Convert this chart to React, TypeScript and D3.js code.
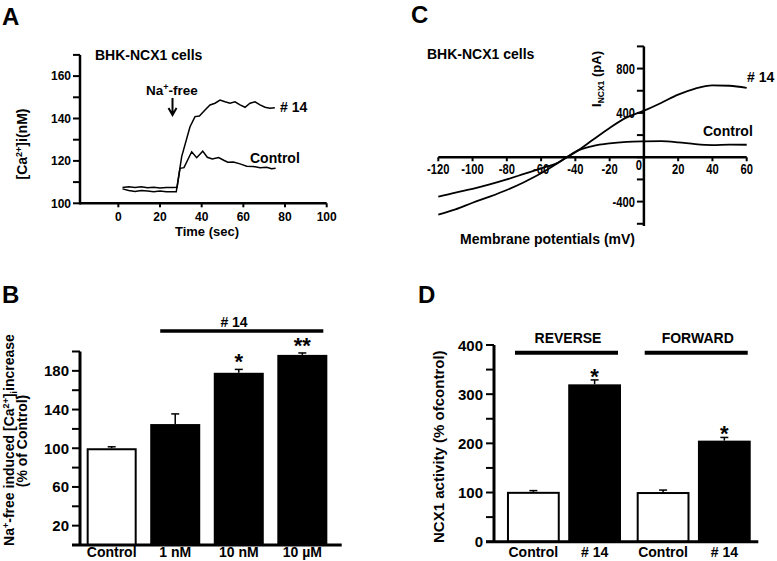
import React from 'react';
import * as d3 from 'd3';

const FONT = "'Liberation Sans', Arial, Helvetica, sans-serif";

// ---------- Panel A : [Ca2+]i time course ----------
const timeTicks = [0, 20, 40, 60, 80, 100];
const caTicks = [100, 110, 120, 130, 140, 150, 160, 170];
const caTickLabels = [100, 120, 140, 160];
const time14 = [2, 5, 8, 11, 14, 17, 20, 23, 26, 27.8, 30.4, 34.4, 36.8, 38.9, 41.6, 44.0, 46.4, 48.8, 51.2, 53.6, 56.0, 58.4, 60.8, 63.2, 65.6, 68.0, 70.4, 72.7, 75.1];
const ca14 = [106.8, 106.0, 105.6, 106.0, 105.8, 105.5, 105.8, 105.5, 105.4, 105.4, 122.0, 136.1, 140.9, 141.2, 144.0, 146.4, 147.2, 148.7, 147.9, 147.2, 147.9, 146.4, 145.3, 147.2, 147.9, 146.4, 145.3, 144.8, 145.1];
const timeCtrl = [2, 5, 8, 11, 14, 17, 20, 23, 26, 28.2, 29.6, 31.5, 35.2, 37.6, 40.5, 42.7, 45.1, 48.1, 50.6, 52.5, 55.2, 58.4, 61.6, 64.7, 68, 71.2, 73.5, 75.5];
const caCtrl = [107.4, 107.8, 107.5, 107.8, 107.3, 107.6, 107.2, 107.5, 107.4, 107.6, 116.5, 116.8, 124.3, 121.5, 124.6, 121.7, 120.9, 121.6, 120.3, 119.4, 119.5, 118.6, 117.5, 117.4, 116.8, 117.0, 116.3, 116.5];
const naFreeTime = 26;

// ---------- Panel C : I-V curves ----------
const mvTicks = [-120, -100, -80, -60, -40, -20, 0, 20, 40, 60];
const paTicks = [-600, -400, -200, 0, 200, 400, 600, 800, 1000];
const paTickLabels = [-400, 400, 800];
const ivVoltage = [-120, -110, -100, -90, -80, -70, -60, -50, -45, -40, -30, -20, -10, 0, 10, 20, 30, 40, 50, 60];
const iv14 = [-517, -470, -410, -355, -295, -225, -145, -50, 0, 45, 155, 265, 360, 420, 490, 565, 620, 648, 645, 625];
const ivCtrl = [-355, -318, -285, -245, -200, -150, -100, -48, 0, 50, 100, 125, 138, 143, 145, 135, 118, 110, 114, 113];

// ---------- Panel B : bars ----------
const bCategories = ['Control', '1 nM', '10 nM', '10 µM'];
const bValues = [100, 125, 178, 196.5];
const bErrors = [1.5, 10.5, 3.5, 2];
const bFilled = [false, true, true, true];
const bStars = ['', '', '*', '**'];
const bTicks = [20, 40, 60, 80, 100, 120, 140, 160, 180, 200];
const bTickLabels = [20, 60, 100, 140, 180];

// ---------- Panel D : bars ----------
const dGroups = ['REVERSE', 'FORWARD'];
const dConditions = ['Control', '# 14'];
const dReverse = [101.4, 320];
const dReverseErr = [2.5, 9];
const dForward = [101, 205.5];
const dForwardErr = [4, 6.5];
const dFilled = [false, true];
const dStars = ['', '*'];
const dTicks = [0, 50, 100, 150, 200, 250, 300, 350, 400];
const dTickLabels = [0, 100, 200, 300, 400];

export default function App() {
  // Panel A scales
  const xA = d3.scaleLinear().domain([-18.4, 100]).range([80, 326.7]);
  const yA = d3.scaleLinear().domain([100, 170]).range([203.3, 54.9]);
  const pathA = (ts: number[], vs: number[]) =>
    d3.line<number>().x((_, i) => xA(ts[i])).y((v) => yA(v))(vs) || '';

  // Panel C scales
  const xC = d3.scaleLinear().domain([-120, 60]).range([438.3, 746.7]);
  const yC = d3.scaleLinear().domain([-620, 1000]).range([226, 46.4]);
  const pathC = (vs: number[]) =>
    d3.line<number>().x((_, i) => xC(ivVoltage[i])).y((v) => yC(v)).curve(d3.curveMonotoneX)(vs) || '';

  // Panel B scales
  const xB = d3.scaleBand<string>().domain(bCategories).range([80, 334]).paddingInner(0.213).paddingOuter(0.105);
  const yB = d3.scaleLinear().domain([0, 200]).range([545, 351.5]);
  const bw = xB.bandwidth();

  // Panel D scales
  const xG = d3.scaleBand<string>().domain(dGroups).range([494, 763.7]).paddingInner(0.121).paddingOuter(0.1);
  const xCond = d3.scaleBand<string>().domain(dConditions).range([0, xG.bandwidth()]).paddingInner(0.138).paddingOuter(0);
  const yD = d3.scaleLinear().domain([0, 400]).range([541.7, 345]);
  const dw = xCond.bandwidth();
  const dSeries = [
    { g: dGroups[0], vals: dReverse, errs: dReverseErr },
    { g: dGroups[1], vals: dForward, errs: dForwardErr },
  ];

  const condensed = (x: number, y: number, s: string, anchor: string, key: string | number) => (
    <text key={key} transform={`translate(${x},${y}) scale(0.8,1)`} textAnchor={anchor as any} fontSize={14} fontWeight="bold">{s}</text>
  );

  return (
    <svg width={777} height={561} style={{ position: 'absolute', left: 0, top: 0 }} fontFamily={FONT}>
      <rect width={777} height={561} fill="#fff" />

      {/* ===== Panel A ===== */}
      <text x={2} y={25} fontSize={24} fontWeight="bold">A</text>
      <text x={95} y={60} fontSize={14} fontWeight="bold">BHK-NCX1 cells</text>
      <line x1={80} x2={80} y1={yA(100) + 1.2} y2={yA(170)} stroke="#000" strokeWidth={2.5} />
      <line x1={80} x2={xA(100)} y1={yA(100)} y2={yA(100)} stroke="#000" strokeWidth={2.5} />
      {caTicks.map((t) => (
        <line key={t} x1={73} x2={80} y1={yA(t)} y2={yA(t)} stroke="#000" strokeWidth={2} />
      ))}
      {caTickLabels.map((t) => (
        <text key={t} x={71} y={yA(t) + 4.3} textAnchor="end" fontSize={12} fontWeight="bold">{t}</text>
      ))}
      {timeTicks.map((t) => (
        <g key={t}>
          <line x1={xA(t)} x2={xA(t)} y1={yA(100)} y2={yA(100) + 4} stroke="#000" strokeWidth={2} />
          <text x={xA(t)} y={221} textAnchor="middle" fontSize={12} fontWeight="bold">{t}</text>
        </g>
      ))}
      <text x={207} y={236} textAnchor="middle" fontSize={13} fontWeight="bold">Time (sec)</text>
      <text transform="translate(27,144) rotate(-90)" textAnchor="middle" fontSize={14} fontWeight="bold">
        [Ca<tspan dy={-5} fontSize={9}>2+</tspan><tspan dy={5}>]i(nM)</tspan>
      </text>
      <path d={pathA(timeCtrl, caCtrl)} fill="none" stroke="#000" strokeWidth={1.5} />
      <path d={pathA(time14, ca14)} fill="none" stroke="#000" strokeWidth={1.5} />
      <text x={146} y={95} fontSize={13.5} fontWeight="bold">
        Na<tspan dy={-5} fontSize={9}>+</tspan><tspan dy={5}>-free</tspan>
      </text>
      <path d={`M${xA(naFreeTime)},98 L${xA(naFreeTime)},115 M${xA(naFreeTime) - 4},108 L${xA(naFreeTime)},115 L${xA(naFreeTime) + 4},108`} fill="none" stroke="#000" strokeWidth={2} />
      <text x={280} y={111.5} fontSize={14} fontWeight="bold"># 14</text>
      <text x={250} y={163} fontSize={14} fontWeight="bold">Control</text>

      {/* ===== Panel C ===== */}
      <text x={411} y={23} fontSize={24} fontWeight="bold">C</text>
      <text x={427} y={59} fontSize={14} fontWeight="bold">BHK-NCX1 cells</text>
      <line x1={xC(-120)} x2={xC(60)} y1={yC(0)} y2={yC(0)} stroke="#000" strokeWidth={2.5} />
      <line x1={xC(0)} x2={xC(0)} y1={yC(1000)} y2={yC(-620)} stroke="#000" strokeWidth={2.5} />
      {mvTicks.map((t) => (
        <line key={t} x1={xC(t)} x2={xC(t)} y1={yC(0)} y2={yC(0) + 4} stroke="#000" strokeWidth={2} />
      ))}
      {mvTicks.map((t) =>
        t === 0
          ? condensed(xC(0) - 5, yC(0) + 13, '0', 'middle', 'z')
          : condensed(xC(t), yC(0) + 17, String(t), 'middle', t)
      )}
      {paTicks.map((t) => (
        <line key={t} x1={xC(0) - 7} x2={xC(0)} y1={yC(t)} y2={yC(t)} stroke="#000" strokeWidth={2} />
      ))}
      {paTickLabels.map((t) => condensed(xC(0) - 9, yC(t) + 5, String(t), 'end', 'p' + t))}
      <text transform="translate(601,79) rotate(-90)" textAnchor="middle" fontSize={13} fontWeight="bold">
        I<tspan dy={3} fontSize={8.5}>NCX1</tspan><tspan dy={-3}> (pA)</tspan>
      </text>
      <text x={547.5} y={244} textAnchor="middle" fontSize={14} fontWeight="bold">Membrane potentials (mV)</text>
      <path d={pathC(ivCtrl)} fill="none" stroke="#000" strokeWidth={1.8} />
      <path d={pathC(iv14)} fill="none" stroke="#000" strokeWidth={1.8} />
      <text x={747} y={82} fontSize={14} fontWeight="bold"># 14</text>
      <text x={703} y={136} fontSize={14} fontWeight="bold">Control</text>

      {/* ===== Panel B ===== */}
      <text x={2} y={303} fontSize={24} fontWeight="bold">B</text>
      {bCategories.map((c, i) => {
        const x = xB(c)!;
        const v = bValues[i];
        const cx = x + bw / 2;
        return (
          <g key={c}>
            <line x1={cx} x2={cx} y1={yB(v)} y2={yB(v + bErrors[i])} stroke="#000" strokeWidth={1.5} />
            <line x1={cx - 4} x2={cx + 4} y1={yB(v + bErrors[i])} y2={yB(v + bErrors[i])} stroke="#000" strokeWidth={1.5} />
            {bFilled[i] ? (
              <rect x={x} y={yB(v)} width={bw} height={yB(0) - yB(v)} fill="#000" />
            ) : (
              <rect x={x + 1} y={yB(v) + 1} width={bw - 2} height={yB(0) - yB(v) - 1} fill="#fff" stroke="#000" strokeWidth={2} />
            )}
            {bStars[i] && (
              <text x={cx} y={yB(v + bErrors[i])} textAnchor="middle" fontSize={22} fontWeight="bold">{bStars[i]}</text>
            )}
            <text x={cx} y={557} textAnchor="middle" fontSize={14} fontWeight="bold">{c}</text>
          </g>
        );
      })}
      <line x1={80} x2={80} y1={yB(0)} y2={yB(200)} stroke="#000" strokeWidth={3} />
      <line x1={72} x2={341.7} y1={yB(0)} y2={yB(0)} stroke="#000" strokeWidth={3} />
      {bTicks.map((t) => (
        <line key={t} x1={72} x2={80} y1={yB(t)} y2={yB(t)} stroke="#000" strokeWidth={2} />
      ))}
      {bTickLabels.map((t) => (
        <text key={t} x={69} y={yB(t) + 5.5} textAnchor="end" fontSize={15} fontWeight="bold">{t}</text>
      ))}
      <line x1={xB('1 nM')! + 10} x2={xB('10 µM')! + bw - 4} y1={331} y2={331} stroke="#000" strokeWidth={3.5} />
      <text x={234} y={327} textAnchor="middle" fontSize={14} fontWeight="bold"># 14</text>
      <text transform="translate(14,440) rotate(-90)" textAnchor="middle" fontSize={14} fontWeight="bold">
        Na<tspan dy={-5} fontSize={9}>+</tspan><tspan dy={5}>-free induced [Ca</tspan><tspan dy={-5} fontSize={9}>2+</tspan><tspan dy={5}>]</tspan><tspan dy={3} fontSize={9}>i</tspan><tspan dy={-3}>increase</tspan>
      </text>
      <text transform="translate(26.5,441) rotate(-90)" textAnchor="middle" fontSize={14} fontWeight="bold">(% of Control)</text>

      {/* ===== Panel D ===== */}
      <text x={418} y={303} fontSize={24} fontWeight="bold">D</text>
      {dSeries.map((s) => {
        const g0 = xG(s.g)!;
        return (
          <g key={s.g}>
            <line x1={g0 + 8} x2={g0 + xG.bandwidth() - 3} y1={352.8} y2={352.8} stroke="#000" strokeWidth={4} />
            <text x={g0 + xG.bandwidth() / 2 + 4} y={343} textAnchor="middle" fontSize={14} fontWeight="bold">{s.g}</text>
            {dConditions.map((c, i) => {
              const x = g0 + xCond(c)!;
              const v = s.vals[i];
              const cx = x + dw / 2;
              const top = yD(v + s.errs[i]);
              return (
                <g key={c}>
                  <line x1={cx} x2={cx} y1={yD(v)} y2={top} stroke="#000" strokeWidth={1.5} />
                  <line x1={cx - 4} x2={cx + 4} y1={top} y2={top} stroke="#000" strokeWidth={1.5} />
                  {dFilled[i] ? (
                    <rect x={x} y={yD(v)} width={dw} height={yD(0) - yD(v)} fill="#000" />
                  ) : (
                    <rect x={x + 1} y={yD(v) + 1} width={dw - 2} height={yD(0) - yD(v) - 1} fill="#fff" stroke="#000" strokeWidth={2} />
                  )}
                  {dStars[i] && (
                    <text x={cx} y={top + 4} textAnchor="middle" fontSize={22} fontWeight="bold">{dStars[i]}</text>
                  )}
                  <text x={cx} y={557} textAnchor="middle" fontSize={14} fontWeight="bold">{c}</text>
                </g>
              );
            })}
          </g>
        );
      })}
      <line x1={494} x2={494} y1={yD(0)} y2={yD(400)} stroke="#000" strokeWidth={3} />
      <line x1={486} x2={758.3} y1={yD(0)} y2={yD(0)} stroke="#000" strokeWidth={3} />
      {dTicks.map((t) => (
        <line key={t} x1={486} x2={494} y1={yD(t)} y2={yD(t)} stroke="#000" strokeWidth={2} />
      ))}
      {dTickLabels.map((t) => (
        <text key={t} x={483} y={yD(t) + 5.5} textAnchor="end" fontSize={15} fontWeight="bold">{t}</text>
      ))}
      <text transform="translate(444,446.7) rotate(-90)" textAnchor="middle" fontSize={15} fontWeight="bold">NCX1 activity (% ofcontrol)</text>
    </svg>
  );
}
